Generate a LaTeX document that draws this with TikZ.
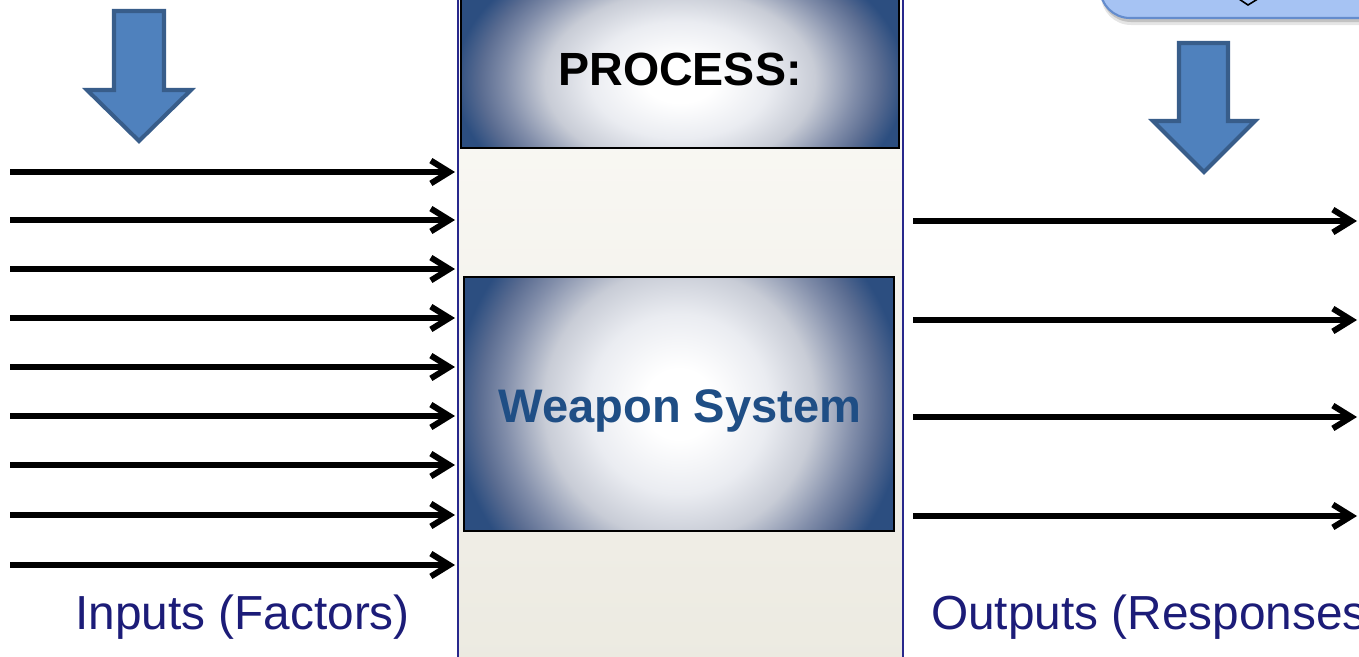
\documentclass[tikz,border=0pt]{standalone}
\usepackage{fontspec}
\setmainfont{Liberation Sans}
\usetikzlibrary{arrows.meta}

\definecolor{panelnavy}{RGB}{40,40,140}
\definecolor{paneltop}{RGB}{252,251,248}
\definecolor{panelbottom}{RGB}{236,234,225}
\definecolor{glowedge}{RGB}{44,78,128}
\definecolor{glowdeep}{RGB}{90,108,145}
\definecolor{glowmid}{RGB}{130,142,170}
\definecolor{glowlight}{RGB}{200,204,214}
\definecolor{glowpale}{RGB}{234,236,241}
\definecolor{labelnavy}{RGB}{28,28,120}
\definecolor{systemblue}{RGB}{31,78,133}
\definecolor{blockfill}{RGB}{79,129,189}
\definecolor{blockedge}{RGB}{56,93,138}
\definecolor{notefill}{RGB}{166,195,243}
\definecolor{noteedge}{RGB}{100,140,205}

% white centre fading to dark blue towards the box edges
\pgfdeclareradialshading{glow}{\pgfpoint{0bp}{0bp}}{%
  color(0bp)=(white); color(3.5bp)=(white); color(9bp)=(glowpale);
  color(13.5bp)=(glowlight); color(17.5bp)=(glowmid); color(20bp)=(glowdeep);
  color(22.5bp)=(glowedge); color(25bp)=(glowedge); color(50bp)=(glowedge)}

\tikzset{
  panelbox/.style={draw=panelnavy, line width=1.2pt, top color=paneltop,
    bottom color=panelbottom, inner sep=0pt},
  frame/.style={draw=black, line width=1.4pt, inner sep=0pt},
  flow/.style={line width=3.4pt, -{Straight Barb[length=10.5pt,width=13pt]}},
  blockarrow/.style={fill=blockfill, draw=blockedge, line width=2.3pt, line join=miter},
  titletext/.style={font=\fontsize{26.5pt}{30pt}\selectfont\bfseries, text=black},
  systext/.style={font=\fontsize{26.8pt}{30pt}\selectfont\bfseries, text=systemblue},
  sidetext/.style={font=\fontsize{27.2pt}{31pt}\selectfont, text=labelnavy},
}

\begin{document}
\begin{tikzpicture}[x=0.02cm, y=-0.02cm]
\useasboundingbox (0,0) rectangle (1359,656);
\clip (0,0) rectangle (1359,656);
\fill[white] (0,0) rectangle (1359,656);

% central process column
\node[panelbox, minimum width=8.9cm, minimum height=13.52cm] (panel) at (680.5,328) {};

% PROCESS header box
\begin{scope}
  \clip (461,-5) rectangle (899,148);
  \shade[shading=glow] (430,-82.5) rectangle (930,242.5);
\end{scope}
\node[frame, minimum width=8.76cm, minimum height=3.06cm] (process) at (680,71.5) {};
\node[titletext, anchor=base] (processlabel) at (680,85) {PROCESS:};

% weapon system box
\begin{scope}
  \clip (464,277) rectangle (894,531);
  \shade[shading=glow] (429,154) rectangle (929,654);
\end{scope}
\node[frame, minimum width=8.6cm, minimum height=5.08cm] (system) at (679,404) {};
\node[systext, anchor=base] (systemlabel) at (680,422) {Weapon System};

% input factors
\foreach \i/\y in {1/172,2/220,3/269,4/318,5/367,6/416,7/465,8/515,9/565}{
  \coordinate (in\i) at (10,\y);
  \coordinate (inend\i) at (455,\y);
  \draw[flow] (in\i) -- (inend\i);
}

% output responses
\foreach \i/\y in {1/221,2/320,3/417,4/516}{
  \coordinate (out\i) at (913,\y);
  \coordinate (outend\i) at (1357,\y);
  \draw[flow] (out\i) -- (outend\i);
}

\node[sidetext, anchor=base west] (inputs) at (69,629) {Inputs (Factors)};
\node[sidetext, anchor=base west] (outputs) at (925,629) {Outputs (Responses)};

% block arrows pointing down
\draw[blockarrow] (114,11) -- (164,11) -- (164,90) -- (191,90) -- (139,141)
  -- (87,90) -- (114,90) -- cycle;
\draw[blockarrow] (1179,43) -- (1228,43) -- (1228,121) -- (1255,121) -- (1204,172)
  -- (1153,121) -- (1179,121) -- cycle;

% rounded note box at the top right
\fill[black, opacity=0.10, rounded corners=0.6cm] (1101,-120) rectangle (1432,25);
\fill[black, opacity=0.15, rounded corners=0.6cm] (1101,-120) rectangle (1431,22);
\draw[fill=notefill, draw=noteedge, line width=1.2pt, rounded corners=0.6cm]
  (1100,-120) rectangle (1430,18);
\draw[line width=0.9pt] (1236,-3) -- (1248,5) -- (1261,-3);
\end{tikzpicture}
\end{document}
